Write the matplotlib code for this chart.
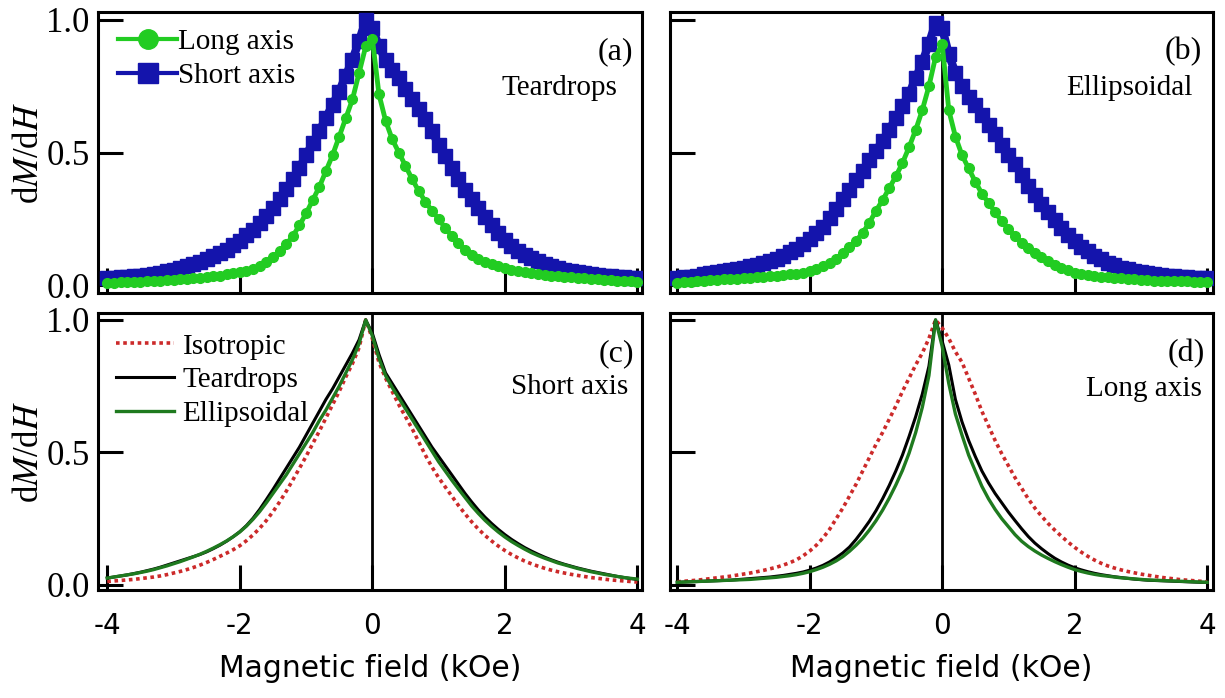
import numpy as np
import matplotlib
matplotlib.use("Agg")
import matplotlib.pyplot as plt
from matplotlib.lines import Line2D

# ---------------- data ----------------
FIELD = [-4.0, -3.9, -3.8, -3.7, -3.6, -3.5, -3.4, -3.3, -3.2, -3.1,
         -3.0, -2.9, -2.8, -2.7, -2.6, -2.5, -2.4, -2.3, -2.2, -2.1,
         -2.0, -1.9, -1.8, -1.7, -1.6, -1.5, -1.4, -1.3, -1.2, -1.1,
         -1.0, -0.9, -0.8, -0.7, -0.6, -0.5, -0.4, -0.3, -0.2, -0.1,
         0.0, 0.1, 0.2, 0.3, 0.4, 0.5, 0.6, 0.7, 0.8, 0.9,
         1.0, 1.1, 1.2, 1.3, 1.4, 1.5, 1.6, 1.7, 1.8, 1.9,
         2.0, 2.1, 2.2, 2.3, 2.4, 2.5, 2.6, 2.7, 2.8, 2.9,
         3.0, 3.1, 3.2, 3.3, 3.4, 3.5, 3.6, 3.7, 3.8, 3.9, 4.0]

# (a) Teardrops
tear_long = [0.008, 0.009, 0.010, 0.011, 0.012, 0.013, 0.014, 0.016, 0.017, 0.019,
             0.020, 0.022, 0.024, 0.026, 0.028, 0.030, 0.033, 0.036, 0.040, 0.044,
             0.048, 0.054, 0.062, 0.073, 0.087, 0.105, 0.127, 0.153, 0.185, 0.225,
             0.27, 0.32, 0.37, 0.43, 0.49, 0.56, 0.63, 0.70, 0.80, 0.90,
             0.93, 0.72, 0.62, 0.55, 0.50, 0.45, 0.40, 0.355, 0.315, 0.28,
             0.25, 0.215, 0.185, 0.157, 0.133, 0.114, 0.099, 0.087, 0.078, 0.070,
             0.063, 0.057, 0.052, 0.048, 0.044, 0.041, 0.038, 0.035, 0.033, 0.031,
             0.029, 0.027, 0.025, 0.023, 0.021, 0.019, 0.018, 0.016, 0.015, 0.014, 0.013]
tear_short = [0.025, 0.027, 0.029, 0.031, 0.033, 0.036, 0.039, 0.043, 0.047, 0.052,
              0.057, 0.063, 0.070, 0.078, 0.087, 0.097, 0.108, 0.120, 0.133, 0.150,
              0.168, 0.188, 0.209, 0.233, 0.260, 0.290, 0.325, 0.362, 0.40, 0.44,
              0.49, 0.535, 0.58, 0.63, 0.68, 0.73, 0.79, 0.85, 0.92, 1.0,
              0.97, 0.90, 0.85, 0.81, 0.78, 0.74, 0.70, 0.665, 0.625, 0.58,
              0.53, 0.485, 0.44, 0.40, 0.36, 0.325, 0.29, 0.258, 0.228, 0.197,
              0.170, 0.148, 0.130, 0.115, 0.102, 0.090, 0.080, 0.071, 0.064, 0.058,
              0.053, 0.048, 0.044, 0.041, 0.038, 0.035, 0.033, 0.031, 0.029, 0.027, 0.026]

# (b) Ellipsoidal
ell_long = [0.008, 0.010, 0.012, 0.014, 0.016, 0.018, 0.019, 0.021, 0.023, 0.024,
            0.026, 0.028, 0.030, 0.032, 0.034, 0.036, 0.038, 0.040, 0.043, 0.047,
            0.052, 0.060, 0.070, 0.083, 0.10, 0.12, 0.142, 0.167, 0.197, 0.235,
            0.28, 0.32, 0.365, 0.41, 0.46, 0.52, 0.585, 0.66, 0.75, 0.86,
            0.91, 0.66, 0.56, 0.49, 0.44, 0.39, 0.345, 0.31, 0.275, 0.24,
            0.21, 0.185, 0.16, 0.14, 0.122, 0.105, 0.09, 0.077, 0.065, 0.055,
            0.047, 0.042, 0.038, 0.035, 0.032, 0.029, 0.027, 0.025, 0.023, 0.021,
            0.019, 0.018, 0.017, 0.016, 0.015, 0.015, 0.014, 0.014, 0.013, 0.013, 0.012]
ell_short = [0.026, 0.029, 0.032, 0.036, 0.040, 0.044, 0.048, 0.052, 0.056, 0.060,
             0.064, 0.070, 0.076, 0.083, 0.091, 0.100, 0.111, 0.123, 0.137, 0.153,
             0.172, 0.195, 0.22, 0.252, 0.288, 0.325, 0.36, 0.395, 0.43, 0.47,
             0.505, 0.545, 0.585, 0.63, 0.675, 0.72, 0.78, 0.84, 0.91, 0.99,
             0.97, 0.87, 0.80, 0.75, 0.71, 0.68, 0.64, 0.605, 0.57, 0.53,
             0.49, 0.455, 0.415, 0.375, 0.34, 0.305, 0.275, 0.245, 0.215, 0.19,
             0.165, 0.145, 0.127, 0.111, 0.097, 0.085, 0.075, 0.066, 0.059, 0.053,
             0.048, 0.044, 0.040, 0.037, 0.035, 0.033, 0.031, 0.030, 0.028, 0.027, 0.026]

# (c) Short axis, normalised
iso_short = [0.013, 0.015, 0.017, 0.019, 0.021, 0.024, 0.027, 0.030, 0.034, 0.039,
             0.045, 0.051, 0.058, 0.066, 0.075, 0.085, 0.096, 0.108, 0.120, 0.133,
             0.148, 0.167, 0.189, 0.214, 0.243, 0.276, 0.313, 0.353, 0.396, 0.44,
             0.485, 0.533, 0.58, 0.63, 0.68, 0.73, 0.785, 0.835, 0.895, 1.0,
             0.93, 0.84, 0.78, 0.73, 0.68, 0.635, 0.59, 0.54, 0.49, 0.445,
             0.405, 0.37, 0.335, 0.30, 0.268, 0.238, 0.211, 0.187, 0.166, 0.147,
             0.13, 0.115, 0.102, 0.090, 0.080, 0.071, 0.063, 0.056, 0.050, 0.045,
             0.040, 0.036, 0.032, 0.028, 0.025, 0.022, 0.019, 0.017, 0.015, 0.013, 0.011]
tear_short_n = [0.026, 0.030, 0.034, 0.038, 0.043, 0.048, 0.054, 0.060, 0.067, 0.075,
                0.083, 0.091, 0.099, 0.107, 0.115, 0.125, 0.137, 0.150, 0.165, 0.182,
                0.201, 0.224, 0.252, 0.285, 0.322, 0.36, 0.40, 0.44, 0.48, 0.52,
                0.565, 0.61, 0.655, 0.70, 0.74, 0.785, 0.83, 0.875, 0.925, 1.0,
                0.95, 0.87, 0.80, 0.76, 0.72, 0.68, 0.64, 0.60, 0.56, 0.52,
                0.485, 0.45, 0.415, 0.38, 0.345, 0.313, 0.283, 0.256, 0.232, 0.21,
                0.19, 0.172, 0.156, 0.141, 0.128, 0.116, 0.105, 0.095, 0.086, 0.078,
                0.071, 0.064, 0.058, 0.052, 0.047, 0.042, 0.037, 0.032, 0.028, 0.024, 0.021]
ell_short_n = [0.026, 0.030, 0.034, 0.038, 0.042, 0.047, 0.052, 0.058, 0.065, 0.072,
               0.080, 0.088, 0.097, 0.106, 0.116, 0.127, 0.139, 0.152, 0.166, 0.182,
               0.20, 0.222, 0.248, 0.277, 0.31, 0.345, 0.38, 0.415, 0.455, 0.495,
               0.535, 0.575, 0.62, 0.66, 0.705, 0.75, 0.80, 0.85, 0.91, 1.0,
               0.94, 0.855, 0.79, 0.745, 0.705, 0.665, 0.625, 0.585, 0.545, 0.505,
               0.465, 0.43, 0.395, 0.362, 0.33, 0.298, 0.27, 0.244, 0.221, 0.20,
               0.181, 0.164, 0.149, 0.135, 0.122, 0.111, 0.101, 0.092, 0.083, 0.076,
               0.069, 0.062, 0.056, 0.050, 0.045, 0.040, 0.036, 0.032, 0.028, 0.025, 0.022]

# (d) Long axis, normalised
iso_long = [0.012, 0.014, 0.016, 0.018, 0.021, 0.024, 0.027, 0.030, 0.033, 0.037,
            0.041, 0.045, 0.050, 0.055, 0.061, 0.067, 0.075, 0.084, 0.095, 0.11,
            0.128, 0.15, 0.177, 0.21, 0.25, 0.29, 0.335, 0.38, 0.43, 0.48,
            0.53, 0.575, 0.625, 0.675, 0.73, 0.78, 0.83, 0.875, 0.93, 1.0,
            0.97, 0.93, 0.88, 0.84, 0.78, 0.72, 0.655, 0.60, 0.545, 0.495,
            0.45, 0.405, 0.365, 0.325, 0.29, 0.26, 0.232, 0.207, 0.184, 0.162,
            0.142, 0.124, 0.108, 0.094, 0.082, 0.072, 0.064, 0.057, 0.051, 0.046,
            0.041, 0.037, 0.033, 0.029, 0.026, 0.023, 0.020, 0.018, 0.016, 0.014, 0.012]
tear_long_n = [0.010, 0.011, 0.012, 0.013, 0.014, 0.015, 0.016, 0.017, 0.018, 0.020,
               0.022, 0.024, 0.026, 0.028, 0.030, 0.033, 0.036, 0.040, 0.044, 0.049,
               0.056, 0.064, 0.074, 0.087, 0.103, 0.121, 0.143, 0.172, 0.205, 0.24,
               0.28, 0.325, 0.375, 0.43, 0.49, 0.56, 0.635, 0.72, 0.825, 1.0,
               0.92, 0.83, 0.70, 0.615, 0.545, 0.485, 0.43, 0.385, 0.345, 0.31,
               0.275, 0.243, 0.212, 0.183, 0.158, 0.137, 0.118, 0.101, 0.087, 0.075,
               0.065, 0.057, 0.050, 0.044, 0.039, 0.035, 0.031, 0.028, 0.025, 0.022,
               0.020, 0.018, 0.017, 0.016, 0.015, 0.014, 0.013, 0.012, 0.011, 0.010, 0.010]
ell_long_n = [0.010, 0.011, 0.012, 0.013, 0.014, 0.015, 0.016, 0.017, 0.018, 0.019,
              0.020, 0.021, 0.023, 0.025, 0.027, 0.029, 0.032, 0.035, 0.039, 0.044,
              0.050, 0.058, 0.067, 0.078, 0.091, 0.107, 0.127, 0.15, 0.176, 0.207,
              0.242, 0.282, 0.327, 0.377, 0.432, 0.497, 0.575, 0.67, 0.79, 1.0,
              0.90, 0.76, 0.645, 0.565, 0.49, 0.43, 0.372, 0.325, 0.285, 0.25,
              0.22, 0.19, 0.165, 0.145, 0.128, 0.113, 0.10, 0.088, 0.077, 0.067,
              0.058, 0.051, 0.045, 0.040, 0.036, 0.033, 0.030, 0.027, 0.025, 0.023,
              0.021, 0.019, 0.018, 0.017, 0.016, 0.015, 0.014, 0.013, 0.012, 0.011, 0.010]

X_TICKS = [-4, -2, 0, 2, 4]
X_TICK_LABELS = ["-4", "-2", "0", "2", "4"]
Y_TICKS = [0.0, 0.5, 1.0]
Y_TICK_LABELS = ["0.0", "0.5", "1.0"]

# ---------------- style ----------------
plt.rcParams['mathtext.fontset'] = 'stix'
SERIF = ['Liberation Serif', 'DejaVu Serif']
SANS = ['DejaVu Sans']
GREEN = '#22cc22'
BLUE = '#1414ac'
RED = '#cc2a2a'
DKGREEN = '#1f7a1f'

W, H = 1225, 698
fig = plt.figure(figsize=(W / 100, H / 100), dpi=100)


def box(l, t, r, b):
    return [l / W, 1 - b / H, (r - l) / W, (b - t) / H]


ax_a = fig.add_axes(box(98, 12, 642, 293))
ax_b = fig.add_axes(box(670, 12, 1213, 293))
ax_c = fig.add_axes(box(98, 313, 642, 590))
ax_d = fig.add_axes(box(670, 313, 1213, 590))

x = np.array(FIELD)

for ax, left in [(ax_a, True), (ax_b, False), (ax_c, True), (ax_d, False)]:
    if left:
        ax.set_xlim(-4.14, 4.07)
    else:
        ax.set_xlim(-4.11, 4.09)
    for s in ax.spines.values():
        s.set_linewidth(2.2)
    ax.axvline(0, color='black', lw=2.0, zorder=1)
    ax.set_xticks(X_TICKS)
    ax.set_yticks(Y_TICKS)
    ax.tick_params(direction='in', length=18, width=2.2, top=False, right=False)
    if left:
        ax.set_yticklabels(Y_TICK_LABELS, fontfamily=SERIF, fontsize=25)
        ax.tick_params(axis='y', pad=6)
        ax.set_ylabel('d$\\mathit{M}$/d$\\mathit{H}$', fontfamily=SERIF,
                      fontsize=25, labelpad=0)
    else:
        ax.set_yticklabels([])

ax_a.set_ylim(-0.03, 1.03)
ax_b.set_ylim(-0.03, 1.03)
ax_c.set_ylim(-0.019, 1.026)
ax_d.set_ylim(-0.019, 1.026)

for ax in (ax_a, ax_b):
    ax.set_xticklabels([])
for ax in (ax_c, ax_d):
    ax.set_xticklabels(X_TICK_LABELS, fontfamily=SANS, fontsize=20)
    ax.tick_params(axis='x', pad=16)
    ax.set_xlabel('Magnetic field (kOe)', fontfamily=SANS, fontsize=21.5, labelpad=10)

# top panels: thick line under dense markers
for ax, long_, short_ in [(ax_a, tear_long, tear_short), (ax_b, ell_long, ell_short)]:
    ax.plot(x, short_, color=BLUE, lw=6, marker='s', ms=9.5, mec=BLUE, zorder=3)
    ax.plot(x, long_, color=GREEN, lw=3.5, marker='o', ms=7, mec=GREEN, zorder=4)

# bottom panels
for ax, iso, tear, ell in [(ax_c, iso_short, tear_short_n, ell_short_n),
                           (ax_d, iso_long, tear_long_n, ell_long_n)]:
    ax.plot(x, iso, color=RED, lw=2.6, ls=(0, (1, 1)), zorder=3)
    ax.plot(x, tear, color='black', lw=2.2, zorder=4)
    ax.plot(x, ell, color=DKGREEN, lw=2.4, zorder=5)

# legends
h_a = [Line2D([], [], color=GREEN, lw=3, marker='o', ms=14, mec=GREEN),
       Line2D([], [], color=BLUE, lw=3, marker='s', ms=14, mec=BLUE)]
ax_a.legend(h_a, ['Long axis', 'Short axis'], loc='upper left',
            bbox_to_anchor=(0.0, 1.012), frameon=False, handlelength=2.0,
            handletextpad=0.05, labelspacing=0.25, borderaxespad=0.3,
            prop={'family': SERIF, 'size': 21})
h_c = [Line2D([], [], color=RED, lw=2.6, ls=(0, (1, 1))),
       Line2D([], [], color='black', lw=2.2),
       Line2D([], [], color=DKGREEN, lw=2.4)]
ax_c.legend(h_c, ['Isotropic', 'Teardrops', 'Ellipsoidal'], loc='upper left',
            bbox_to_anchor=(0.0, 0.99), frameon=False, handlelength=2.0,
            handletextpad=0.3, labelspacing=0.25, borderaxespad=0.2,
            prop={'family': SERIF, 'size': 21})

# panel annotations
notes = [(ax_a, '(a)', 0.983, 0.858, 23), (ax_a, 'Teardrops', 0.955, 0.73, 21),
         (ax_b, '(b)', 0.98, 0.858, 23), (ax_b, 'Ellipsoidal', 0.962, 0.728, 21),
         (ax_c, '(c)', 0.985, 0.852, 23), (ax_c, 'Short axis', 0.975, 0.733, 21),
         (ax_d, '(d)', 0.985, 0.855, 23), (ax_d, 'Long axis', 0.98, 0.725, 21)]
for ax, txt, xx, yy, fs in notes:
    ax.text(xx, yy, txt, transform=ax.transAxes, ha='right', va='center',
            fontfamily=SERIF, fontsize=fs)

fig.savefig('out.png', dpi=100)
